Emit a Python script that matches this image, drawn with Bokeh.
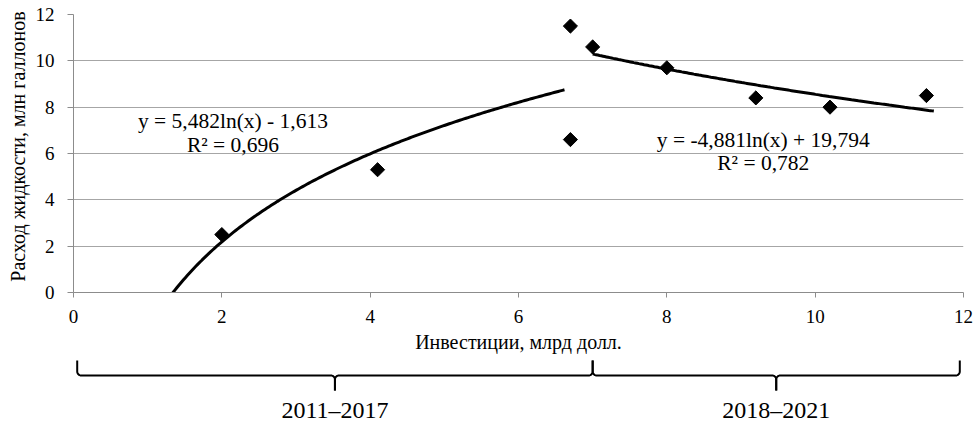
import numpy as np
from bokeh.plotting import figure
from bokeh.models import Range1d, ColumnDataSource, FixedTicker
from bokeh.layouts import column, row
from bokeh.core.properties import value
from bokeh.embed import file_html
from bokeh.resources import INLINE

# ---- data ----
invest = [2.0, 4.1, 6.7, 6.7, 7.0, 8.0, 9.2, 10.2, 11.5]
consumption = [2.5, 5.3, 11.5, 6.6, 10.6, 9.7, 8.4, 8.0, 8.5]

trend1_coef = [5.482, -1.613]      # y = a*ln(x) + b
trend1_span = [1.0, 6.62]
trend2_coef = [-4.881, 19.794]
trend2_span = [7.0, 11.6]

eq1_text = ["y = 5,482ln(x) - 1,613", "R² = 0,696"]
eq2_text = ["y = -4,881ln(x) + 19,794", "R² = 0,782"]

periods = ["2011–2017", "2018–2021"]
period_start = [0.05, 7.0]
period_end = [7.0, 11.95]

x_ticks = [0, 2, 4, 6, 8, 10, 12]
y_ticks = [0, 2, 4, 6, 8, 10, 12]
x_tick_labels = [str(t) for t in x_ticks]
y_tick_labels = [str(t) for t in y_ticks]

x_title = "Инвестиции, млрд долл."
y_title = "Расход жидкости, млн галлонов"

FONT = "Liberation Serif"
X0, X1 = 0, 12
Y0, Y1 = 0, 12

# ---- layout constants (pixels, page coordinates) ----
W, H = 979, 422
FRAME_L, FRAME_R, FRAME_T, FRAME_B = 73, 963, 14, 292
TOP_H = 304
LEFT_W = 67
TICK_X, TICK_Y = 5, 6
XLAB_Y, XTITLE_Y = 316, 341
BRACE_TOP_Y, BRACE_LINE_Y, BRACE_STEM_Y = 360, 375, 390
PERIOD_Y = 409

sx = (FRAME_R - FRAME_L) / (X1 - X0)
sy = (FRAME_B - FRAME_T) / (Y1 - Y0)


def no_align(fig):
    if "frame_align" in fig.properties():
        fig.frame_align = False


# ---- main chart (frame, grid, axes, marks) ----
p = figure(width=W - LEFT_W, height=TOP_H, x_range=Range1d(X0, X1), y_range=Range1d(Y0, Y1),
           output_backend="svg", toolbar_location=None,
           min_border_left=FRAME_L - LEFT_W, min_border_right=W - FRAME_R,
           min_border_top=FRAME_T, min_border_bottom=TOP_H - FRAME_B)
no_align(p)
p.outline_line_color = None
p.xgrid.grid_line_color = None
p.ygrid.grid_line_color = "#a6a6a6"
p.xaxis.ticker = FixedTicker(ticks=x_ticks)
p.yaxis.ticker = FixedTicker(ticks=y_ticks)
p.xaxis.major_label_overrides = {t: "" for t in x_ticks}
p.yaxis.major_label_overrides = {t: "" for t in y_ticks}
p.axis.axis_line_color = "#8c8c8c"
p.axis.major_tick_line_color = "#8c8c8c"
p.axis.minor_tick_line_color = None
p.axis.major_tick_in = 0
p.xaxis.major_tick_out = TICK_X
p.yaxis.major_tick_out = TICK_Y
p.axis.major_label_text_font_size = "1px"
p.axis.major_label_standoff = 0

for coef, span in [(trend1_coef, trend1_span), (trend2_coef, trend2_span)]:
    xs = np.linspace(span[0], span[1], 200)
    ys = coef[0] * np.log(xs) + coef[1]
    p.line(xs, ys, line_color="black", line_width=3)

p.scatter(invest, consumption, marker="square", angle=np.pi / 4, size=10,
          fill_color="black", line_color="black")

eq_src = ColumnDataSource(dict(
    x=[2.15, 2.15, 9.30, 9.30],
    y=[7.42, 6.36, 6.60, 5.58],
    t=[eq1_text[0], eq1_text[1], eq2_text[0], eq2_text[1]],
))
p.text(x="x", y="y", text="t", source=eq_src, text_align="center",
       text_baseline="middle", text_font=value(FONT),
       text_font_size="21.5px", text_color="black")

# ---- left strip: y tick labels and y title (same y scale as the chart) ----
L = figure(frame_width=LEFT_W, frame_height=TOP_H, x_range=Range1d(0, LEFT_W),
           y_range=Range1d(Y0 - (TOP_H - FRAME_B) / sy, Y1 + FRAME_T / sy),
           output_backend="svg", toolbar_location=None, min_border=0,
           x_axis_location=None, y_axis_location=None)
no_align(L)
L.outline_line_color = None
L.grid.grid_line_color = None
L.text(x=[FRAME_L - TICK_Y - 13] * len(y_ticks), y=y_ticks, text=y_tick_labels,
       text_align="right", text_baseline="middle", text_font=value(FONT),
       text_font_size="19px", text_color="black")
L.text(x=[17], y=[6.3], text=[y_title], angle=np.pi / 2, text_align="center",
       text_baseline="middle", text_font=value(FONT), text_font_size="20px", text_color="black")

# ---- bottom strip: x tick labels, x title, period braces (same x scale) ----
BOT_H = H - TOP_H
q = figure(width=W, height=BOT_H,
           x_range=Range1d(X0 - FRAME_L / sx, X1 + (W - FRAME_R) / sx),
           y_range=Range1d(BOT_H, 0),
           output_backend="svg", toolbar_location=None, min_border=0,
           x_axis_location=None, y_axis_location=None)
no_align(q)
q.outline_line_color = None
q.grid.grid_line_color = None

q.text(x=x_ticks, y=[XLAB_Y - TOP_H] * len(x_ticks), text=x_tick_labels, text_align="center",
       text_baseline="middle", text_font=value(FONT), text_font_size="19px", text_color="black")
q.text(x=[(X0 + X1) / 2], y=[XTITLE_Y - TOP_H], text=[x_title], text_align="center",
       text_baseline="middle", text_font=value(FONT), text_font_size="20px", text_color="black")

px = 1.0 / sx
top_v, line_v, stem_v, r_v = BRACE_TOP_Y - TOP_H, BRACE_LINE_Y - TOP_H, BRACE_STEM_Y - TOP_H, 4
r = 4 * px


def arc(cx, cy, t0, t1, n=8):
    t = np.linspace(t0, t1, n)
    return list(cx + r * np.cos(t)), list(cy + r_v * np.sin(t))


bx, by = [], []
for a, b in zip(period_start, period_end):
    m = (a + b) / 2
    x1, y1 = arc(a + r, line_v - r_v, np.pi, np.pi / 2)
    x2, y2 = arc(m - r, line_v + r_v, -np.pi / 2, 0)
    bx.append([a] + x1 + x2 + [m])
    by.append([top_v] + y1 + y2 + [stem_v])
    x3, y3 = arc(b - r, line_v - r_v, 0, np.pi / 2)
    x4, y4 = arc(m + r, line_v + r_v, -np.pi / 2, -np.pi)
    bx.append([b] + x3 + x4 + [m])
    by.append([top_v] + y3 + y4 + [stem_v])

q.multi_line(bx, by, line_color="black", line_width=2)

mids = [(a + b) / 2 for a, b in zip(period_start, period_end)]
q.text(x=mids, y=[PERIOD_Y - TOP_H] * 2, text=periods, text_align="center", text_baseline="middle",
       text_font=value(FONT), text_font_size="24px", text_color="black")

layout = column(row(L, p, spacing=0), q, spacing=0)
open("out.html", "w").write(file_html(layout, INLINE))
